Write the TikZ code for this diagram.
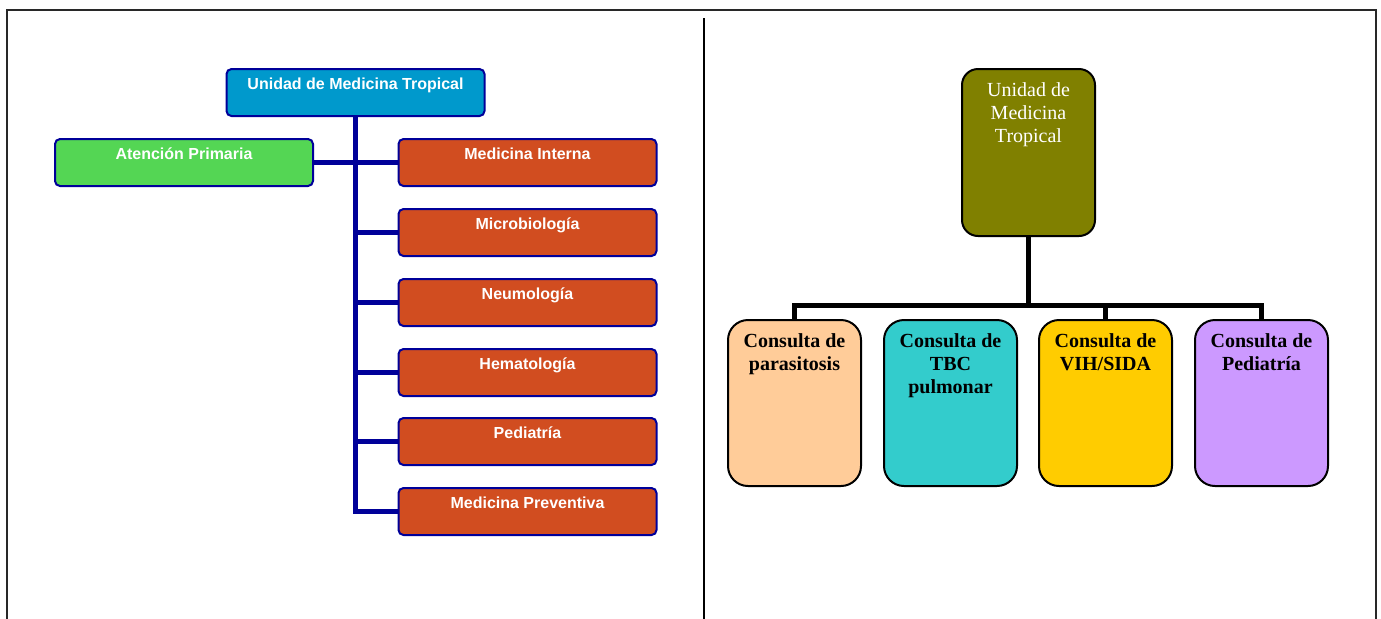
\documentclass[tikz,border=0pt]{standalone}
\usepackage{fontspec}
\setmainfont{Liberation Serif}
\setsansfont{Liberation Sans}
\usetikzlibrary{positioning}
\definecolor{azulcab}{RGB}{0,153,204}
\definecolor{verdeap}{RGB}{84,214,84}
\definecolor{rojoserv}{RGB}{209,77,32}
\definecolor{marino}{RGB}{0,0,153}
\definecolor{oliva}{RGB}{128,128,0}
\definecolor{durazno}{RGB}{255,204,153}
\definecolor{turquesa}{RGB}{51,204,204}
\definecolor{oro}{RGB}{255,204,0}
\definecolor{lila}{RGB}{204,153,255}
\definecolor{grisborde}{RGB}{40,40,40}
\tikzset{
  unidad/.style={draw=marino, line width=1pt, rounded corners=2.5pt,
    minimum width=129pt, minimum height=23.5pt, inner sep=0pt},
  rotulo/.style={inner sep=0pt, text=white,
    font=\sffamily\bfseries\fontsize{8}{9.6}\selectfont},
  raiz/.style={draw=black, line width=1pt, fill=oliva, rounded corners=8pt,
    minimum width=66.5pt, minimum height=83.5pt, inner sep=0pt},
  consulta/.style={draw=black, line width=1pt, rounded corners=10pt,
    minimum width=66.5pt, minimum height=83pt, inner sep=0pt},
  rotuloR/.style={inner sep=0pt, align=center, text=white,
    font=\fontsize{10}{11.5}\selectfont},
  rotuloC/.style={inner sep=0pt, align=center, text=black,
    font=\bfseries\fontsize{10}{11.5}\selectfont},
  eje/.style={line width=2.5pt, draw=marino},
  tronco/.style={line width=2.5pt, draw=black},
  marco/.style={line width=1pt, draw=grisborde}
}
\begin{document}
\begin{tikzpicture}[x=0.5pt,y=-0.5pt]
  \useasboundingbox (0,0) rectangle (1381,618);

  % marco
  \draw[marco] (7,625) -- (7,10) -- (1376,10) -- (1376,625);
  \draw[line width=0.8pt] (704,18) -- (704,625);

  % organigrama izquierdo
  \node[unidad, fill=azulcab] (umt) at (355.5,92.5) {};
  \node[rotulo, below=4.75pt of umt.north] (umt-t) {Unidad de Medicina Tropical};
  \node[unidad, fill=verdeap] (primaria) at (184,162.5) {};
  \node[rotulo, below=4.75pt of primaria.north] (primaria-t) {Atención Primaria};

  \foreach \n/\y/\txt in {interna/162.5/Medicina Interna,
      micro/232.5/Microbiología, neumo/302.5/Neumología,
      hemato/372.5/Hematología, pedia/441.5/Pediatría,
      preven/511.5/Medicina Preventiva}
  {
    \node[unidad, fill=rojoserv] (\n) at (527.5,\y) {};
    \node[rotulo, below=4.75pt of \n.north] (\n-t) {\txt};
    \draw[eje] (umt.south |- \n.west) -- (\n.west);
  }
  \draw[eje] (umt.south) -- (umt.south |- preven.west) -- (preven.west);
  \draw[eje] (primaria.east) -- (interna.west);

  % organigrama derecho
  \node[raiz] (umt2) at (1028.5,152.5) {};
  \node[rotuloR, below=7.2pt of umt2.north] (umt2-t) {Unidad de\\Medicina\\Tropical};

  \foreach \n/\x/\col/\txt in {parasit/794.5/durazno/{Consulta de\\parasitosis},
      tbc/950.5/turquesa/{Consulta de\\TBC\\pulmonar},
      vih/1105.5/oro/{Consulta de\\VIH/SIDA},
      pediac/1261.5/lila/{Consulta de\\Pediatría}}
  {
    \node[consulta, fill=\col] (\n) at (\x,403) {};
    \node[rotuloC, below=7.2pt of \n.north] (\n-t) {\txt};
  }
  \coordinate (bus) at (1028.5,305);
  \draw[tronco] (umt2.south) -- (bus);
  \draw[tronco] (parasit.north) |- (bus) -| (pediac.north);
  \draw[tronco] (vih.north) -- (vih.north |- bus);
\end{tikzpicture}
\end{document}
